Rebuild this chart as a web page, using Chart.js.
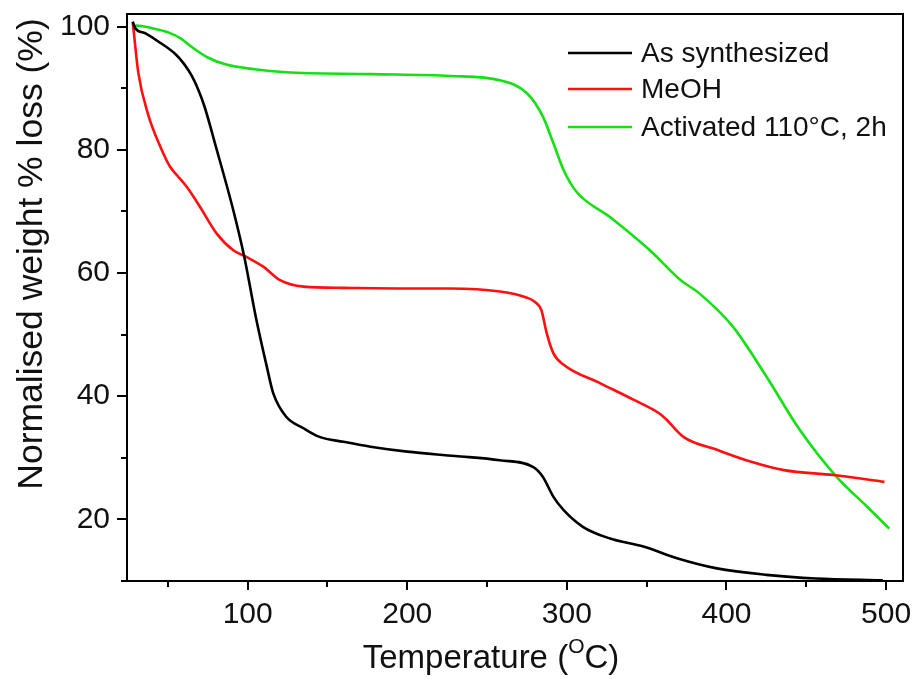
<!DOCTYPE html>
<html>
<head>
<meta charset="utf-8">
<script src="https://cdn.jsdelivr.net/npm/chart.js@4"></script>
<style>
  html, body { margin: 0; padding: 0; background: #fff; }
  #wrap { width: 916px; height: 679px; }
</style>
</head>
<body>
<div id="wrap"><canvas id="myChart" width="916" height="679"></canvas></div>
<script>
const ctx = document.getElementById('myChart');

// As synthesized
const asSynT = [28, 29.5, 36, 44, 54.5, 60, 65, 69, 73, 80, 91, 98, 105, 112, 116, 124, 135, 145, 160, 177, 200, 230, 258, 279, 285, 291.5, 298, 310, 327, 348, 369, 394, 425, 456, 498];
const asSynW = [100.8, 99.8, 98.9, 97.6, 95.6, 94.0, 92.0, 89.8, 87.0, 80.6, 70.2, 62.5, 53, 44.8, 40.5, 36.7, 34.8, 33.4, 32.6, 31.8, 31, 30.3, 29.6, 28.5, 26.9, 23.7, 21.5, 18.8, 16.9, 15.6, 13.7, 12.05, 11, 10.4, 10.1];

// MeOH
const meohT = [28, 31.5, 37.7, 45.5, 51.3, 56, 61.8, 70, 80.6, 91, 99.4, 110, 120, 135, 160, 200, 227, 258, 275, 280, 284, 287.4, 291.5, 298, 321, 342, 358, 362, 373, 394, 415, 436, 467, 499];
const meohW = [100.8, 92.5, 85.7, 80.4, 77.3, 75.8, 74, 70.8, 66.4, 63.7, 62.6, 61, 58.9, 57.8, 57.6, 57.5, 57.5, 57, 56, 55.3, 54, 50.2, 47, 45.1, 42.1, 39.4, 37.2, 36.3, 33.4, 31.3, 29.4, 28, 27.2, 26.1];

// Activated 110 °C, 2h
const actT = [28, 30, 36, 41, 51, 58, 65, 75, 86, 104, 124, 177, 227, 258, 275, 285, 291.5, 298, 306, 327, 352, 371, 383, 404, 425, 446, 469, 488, 502];
const actW = [99.5, 100.2, 100, 99.7, 99.0, 98.1, 96.7, 95.0, 93.9, 93.1, 92.6, 92.3, 92, 91.3, 89.2, 85.4, 81.1, 76.7, 73.2, 69.1, 63.7, 58.9, 56.7, 51.3, 43.2, 34.5, 26.9, 22.1, 18.5];

const xTicks = [50, 100, 150, 200, 250, 300, 350, 400, 450, 500];
const yTicks = [10, 20, 30, 40, 50, 60, 70, 80, 90, 100];

const seriesNames = ['As synthesized', 'MeOH', 'Activated 110°C, 2h'];
const seriesColors = ['#000000', '#ff1010', '#14e014'];

const FONT = "'Liberation Sans', Arial, sans-serif";

function pts(xs, ys) {
  return xs.map((x, i) => ({ x: x, y: ys[i] }));
}

const data = {
  datasets: [
    { label: seriesNames[0], data: pts(asSynT, asSynW), borderColor: seriesColors[0] },
    { label: seriesNames[1], data: pts(meohT, meohW), borderColor: seriesColors[1] },
    { label: seriesNames[2], data: pts(actT, actW), borderColor: seriesColors[2] }
  ].map(d => Object.assign(d, {
    borderWidth: 2.6,
    pointRadius: 0,
    fill: false,
    cubicInterpolationMode: 'monotone'
  }))
};

// frame, ticks, axis titles and legend
const decor = {
  id: 'decor',
  afterDraw(chart) {
    const c = chart.ctx;
    const a = chart.chartArea;
    const xs = chart.scales.x, ys = chart.scales.y;
    c.save();
    c.strokeStyle = '#000';
    c.lineWidth = 2;
    c.strokeRect(a.left, a.top, a.right - a.left, a.bottom - a.top);

    xTicks.forEach(v => {
      const px = Math.round(xs.getPixelForValue(v));
      const len = v % 100 === 0 ? 9 : 6;
      c.beginPath();
      c.moveTo(px, a.bottom);
      c.lineTo(px, a.bottom + len);
      c.stroke();
    });
    yTicks.forEach(v => {
      const py = Math.round(ys.getPixelForValue(v));
      const len = v % 20 === 0 ? 10 : 6;
      c.beginPath();
      c.moveTo(a.left, py);
      c.lineTo(a.left - len, py);
      c.stroke();
    });

    c.fillStyle = '#111';
    // y title
    c.save();
    c.translate(32, 254);
    c.rotate(-Math.PI / 2);
    c.font = '35.5px ' + FONT;
    c.textAlign = 'center';
    c.textBaseline = 'middle';
    c.fillText('Normalised weight % loss (%)', 0, 0);
    c.restore();

    // x title with superscript O
    const big = '33px ' + FONT, small = '21px ' + FONT;
    const p1 = 'Temperature (', p2 = 'O', p3 = 'C)';
    c.font = big; const w1 = c.measureText(p1).width, w3 = c.measureText(p3).width;
    c.font = small; const w2 = c.measureText(p2).width;
    let x0 = 491 - (w1 + w2 + w3) / 2;
    const base = 668;
    c.textAlign = 'left';
    c.textBaseline = 'alphabetic';
    c.font = big; c.fillText(p1, x0, base);
    c.font = small; c.fillText(p2, x0 + w1, base - 15);
    c.font = big; c.fillText(p3, x0 + w1 + w2, base);

    // legend
    const rows = [53, 89, 127];
    c.font = '28px ' + FONT;
    c.textBaseline = 'middle';
    chart.data.datasets.forEach((d, i) => {
      c.strokeStyle = d.borderColor;
      c.lineWidth = 2.6;
      c.beginPath();
      c.moveTo(568, rows[i]);
      c.lineTo(632, rows[i]);
      c.stroke();
      c.fillText(d.label, 641, rows[i] + 1);
    });
    c.restore();
  }
};

new Chart(ctx, {
  type: 'line',
  data: data,
  plugins: [decor],
  options: {
    responsive: false,
    animation: false,
    layout: { padding: { top: 14, right: 13, left: 0, bottom: 0 } },
    plugins: {
      legend: { display: false },
      tooltip: { enabled: false },
      title: { display: false }
    },
    scales: {
      x: {
        type: 'linear',
        min: 24.4,
        max: 510.6,
        afterBuildTicks: s => { s.ticks = xTicks.map(v => ({ value: v })); },
        afterFit: s => { s.height = 98; s.paddingLeft = 0; s.paddingRight = 0; },
        grid: { display: false, drawTicks: false },
        border: { display: false },
        ticks: {
          autoSkip: false,
          maxRotation: 0,
          padding: 16,
          color: '#111',
          font: { family: FONT, size: 30 },
          callback: v => (v % 100 === 0 ? String(v) : '')
        }
      },
      y: {
        type: 'linear',
        min: 10,
        max: 102.06,
        afterBuildTicks: s => { s.ticks = yTicks.map(v => ({ value: v })); },
        afterFit: s => { s.width = 127; s.paddingTop = 0; s.paddingBottom = 0; },
        grid: { display: false, drawTicks: false },
        border: { display: false },
        ticks: {
          autoSkip: false,
          padding: 17,
          color: '#111',
          font: { family: FONT, size: 30 },
          callback: v => (v % 20 === 0 ? String(v) : '')
        }
      }
    }
  }
});
</script>
</body>
</html>
